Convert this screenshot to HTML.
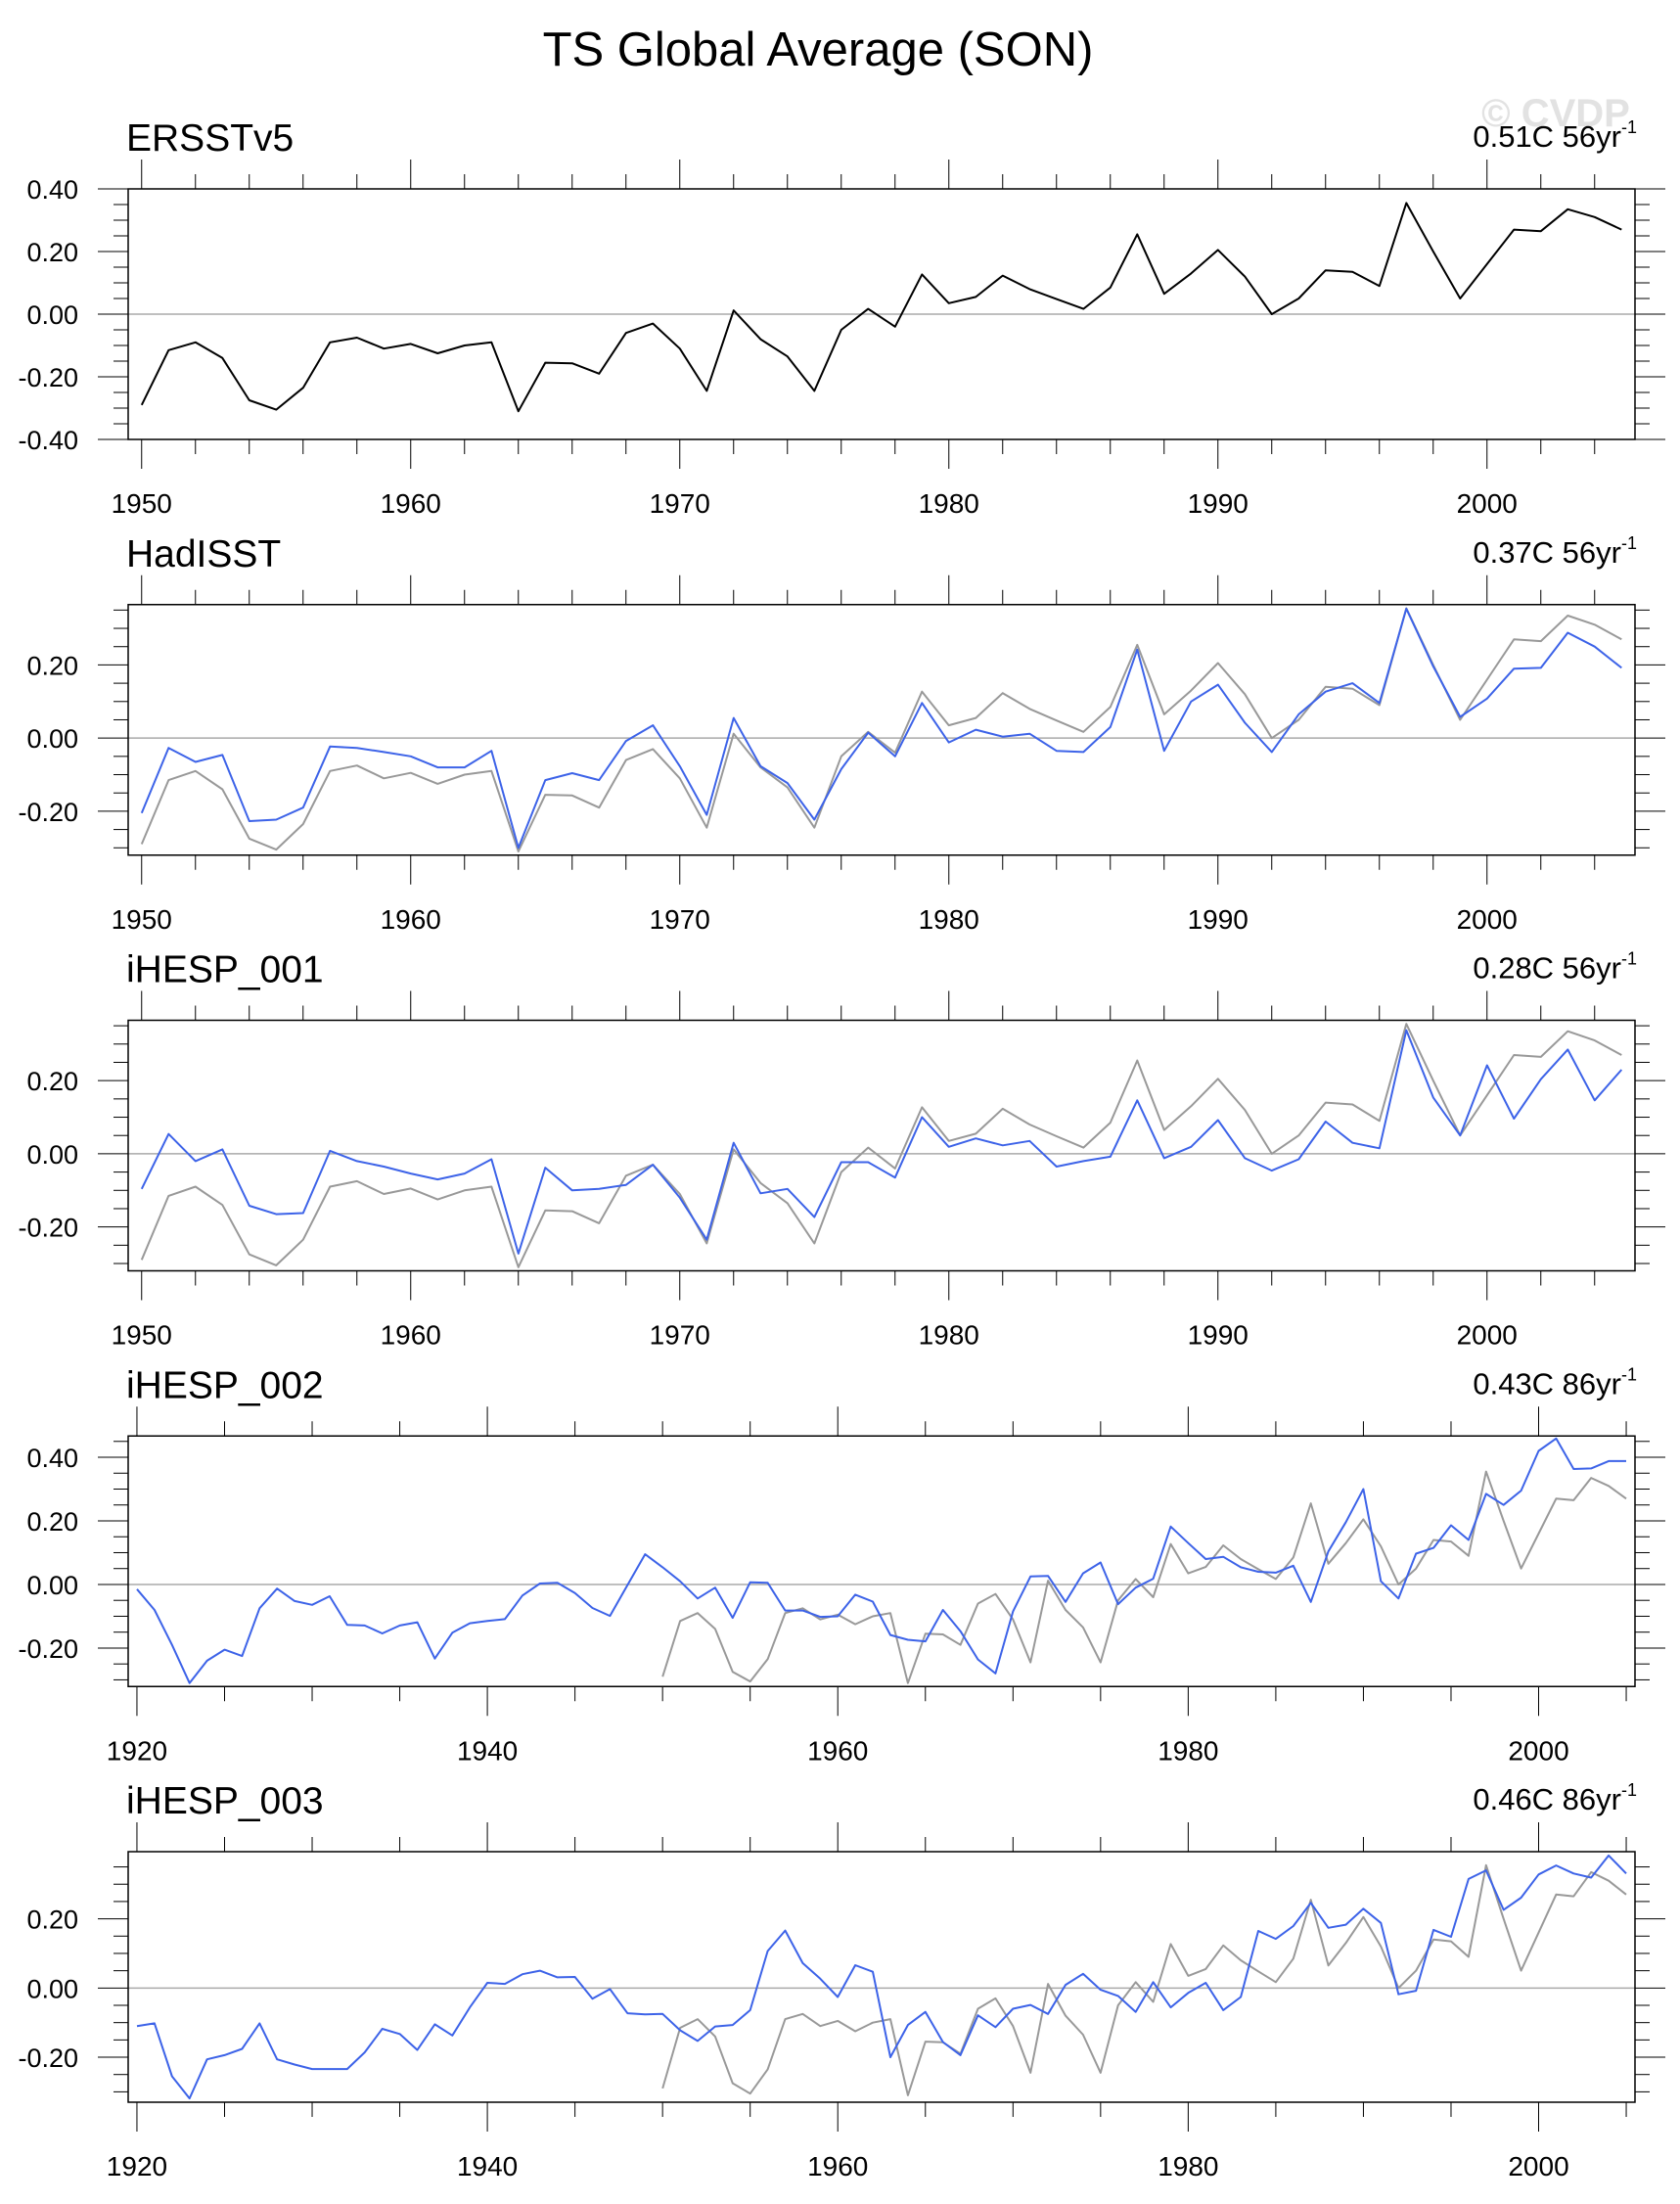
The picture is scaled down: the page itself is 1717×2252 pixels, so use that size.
<!DOCTYPE html>
<html><head><meta charset="utf-8"><style>
html,body{margin:0;padding:0;background:#fff;}
svg{display:block;font-family:"Liberation Sans",sans-serif;}
</style></head><body>
<svg id="chart" width="1717" height="2252" viewBox="0 0 1717 2252">
<text x="836" y="67" font-size="49" text-anchor="middle">TS Global Average (SON)</text>
<text x="1590" y="129" font-size="40" text-anchor="middle" fill="#e2e2e2" font-weight="bold">© CVDP</text>
</svg>
<script>
const yearsShort = [];
for (let y = 1950; y <= 2005; y++) yearsShort.push(y);
const yearsLong = [];
for (let y = 1920; y <= 2005; y++) yearsLong.push(y);

const ersst = [-0.29,-0.115,-0.09,-0.14,-0.275,-0.305,-0.235,-0.09,-0.075,-0.11,-0.095,-0.125,-0.10,-0.09,-0.31,-0.155,-0.157,-0.19,-0.06,-0.03,-0.11,-0.245,0.012,-0.08,-0.135,-0.245,-0.05,0.017,-0.04,0.127,0.035,0.055,0.123,0.08,0.048,0.017,0.085,0.255,0.065,0.13,0.205,0.12,0.0,0.05,0.14,0.135,0.09,0.355,0.2,0.05,0.16,0.27,0.265,0.335,0.31,0.27];
const hadisst = [-0.205,-0.027,-0.065,-0.046,-0.227,-0.223,-0.19,-0.023,-0.027,-0.038,-0.05,-0.08,-0.08,-0.035,-0.30,-0.115,-0.096,-0.115,-0.008,0.035,-0.077,-0.21,0.055,-0.077,-0.123,-0.223,-0.085,0.015,-0.05,0.096,-0.012,0.023,0.004,0.012,-0.035,-0.038,0.03,0.242,-0.035,0.1,0.146,0.042,-0.038,0.065,0.127,0.15,0.096,0.354,0.196,0.058,0.108,0.19,0.192,0.288,0.25,0.192];
const ihesp001 = [-0.096,0.054,-0.02,0.012,-0.142,-0.165,-0.162,0.008,-0.02,-0.035,-0.054,-0.07,-0.054,-0.015,-0.273,-0.038,-0.1,-0.096,-0.085,-0.03,-0.12,-0.235,0.03,-0.108,-0.096,-0.173,-0.023,-0.023,-0.065,0.1,0.019,0.042,0.023,0.035,-0.035,-0.02,-0.008,0.146,-0.012,0.019,0.092,-0.012,-0.046,-0.015,0.088,0.03,0.015,0.338,0.154,0.05,0.242,0.096,0.204,0.285,0.146,0.23];
const ihesp002 = [-0.015,-0.08,-0.19,-0.31,-0.24,-0.205,-0.225,-0.075,-0.013,-0.052,-0.064,-0.037,-0.127,-0.129,-0.154,-0.129,-0.119,-0.233,-0.152,-0.122,-0.115,-0.109,-0.035,0.003,0.005,-0.027,-0.074,-0.099,-0.002,0.095,0.054,0.01,-0.044,-0.01,-0.105,0.007,0.005,-0.082,-0.082,-0.102,-0.1,-0.032,-0.054,-0.159,-0.174,-0.179,-0.08,-0.147,-0.236,-0.28,-0.085,0.025,0.027,-0.055,0.035,0.069,-0.062,-0.01,0.018,0.182,0.13,0.08,0.087,0.054,0.04,0.037,0.059,-0.055,0.104,0.196,0.3,0.01,-0.044,0.097,0.115,0.186,0.14,0.285,0.25,0.295,0.42,0.459,0.363,0.365,0.388,0.388];
const ihesp003 = [-0.11,-0.102,-0.255,-0.319,-0.206,-0.194,-0.176,-0.102,-0.206,-0.221,-0.234,-0.234,-0.234,-0.186,-0.118,-0.133,-0.179,-0.105,-0.137,-0.056,0.015,0.012,0.04,0.05,0.031,0.032,-0.031,-0.003,-0.073,-0.076,-0.075,-0.122,-0.153,-0.111,-0.107,-0.064,0.107,0.166,0.072,0.027,-0.026,0.066,0.047,-0.2,-0.107,-0.069,-0.156,-0.194,-0.079,-0.113,-0.06,-0.049,-0.075,0.009,0.041,-0.005,-0.023,-0.069,0.017,-0.056,-0.014,0.015,-0.064,-0.026,0.165,0.142,0.179,0.246,0.174,0.183,0.229,0.188,-0.018,-0.008,0.168,0.148,0.315,0.34,0.226,0.261,0.328,0.354,0.331,0.319,0.383,0.331];

const panelNames = ["ERSSTv5","HadISST","iHESP_001","iHESP_002","iHESP_003"];
const trendLabels = ["0.51C 56yr","0.37C 56yr","0.28C 56yr","0.43C 86yr","0.46C 86yr"];
const yMins = [-0.40,-0.32,-0.32,-0.321,-0.33];
const yMaxs = [0.40,0.365,0.365,0.467,0.394];

const svg = document.getElementById('chart');
const NS = 'http://www.w3.org/2000/svg';
function mk(tag, attrs, parent) {
  const e = document.createElementNS(NS, tag);
  for (const k in attrs) e.setAttribute(k, attrs[k]);
  (parent || svg).appendChild(e);
  return e;
}
const L = 131, R = 1671, H = 256;

for (let p = 0; p < 5; p++) {
  const top = 193 + 424.75 * p, bot = top + H;
  const long = p >= 3;
  const x0 = long ? 1919.5 : 1949.5, x1 = 2005.5;
  const yMin = yMins[p], yMax = yMaxs[p];
  const xs = v => L + (v - x0) / (x1 - x0) * (R - L);
  const ys = v => bot - (v - yMin) / (yMax - yMin) * H;
  const g = mk('g', {});
  
  

  const t1 = mk('text', {x: 129, y: top - 39, 'font-size': 39}, g);
  t1.textContent = panelNames[p];
  
  
  const t2 = mk('text', {x: 1673, y: top - 43, 'font-size': 31, 'text-anchor': 'end'}, g);
  t2.textContent = trendLabels[p];
  const sup = mk('tspan', {'font-size': 18, dy: -14}, t2);
  sup.textContent = '-1';
  
  

  const major = long ? 20 : 10, minor = long ? 5 : 2;
  for (let yr = long ? 1920 : 1950; yr <= 2005; yr += minor) {
    const x = xs(yr), isM = (yr % major === 0);
    const len = isM ? 30 : 15;
    mk('line', {x1: x, x2: x, y1: top, y2: top - len, stroke: '#000', 'stroke-width': 1}, g);
    mk('line', {x1: x, x2: x, y1: bot, y2: bot + len, stroke: '#000', 'stroke-width': 1}, g);
    if (isM) {
      const tl = mk('text', {x: x, y: bot + 75, 'font-size': 28, 'text-anchor': 'middle'}, g);
      tl.textContent = yr;
      
      
    }
  }
  for (let k = Math.ceil(yMin / 0.05 - 1e-6); k * 0.05 <= yMax + 1e-6; k++) {
    const v = k * 0.05, y = ys(v), isM = (k % 4 === 0);
    const len = isM ? 31 : 15;
    mk('line', {x1: L, x2: L - len, y1: y, y2: y, stroke: '#000', 'stroke-width': 1}, g);
    mk('line', {x1: R, x2: R + len, y1: y, y2: y, stroke: '#000', 'stroke-width': 1}, g);
    if (isM) {
      const tl = mk('text', {x: 80, y: y + 10, 'font-size': 27, 'text-anchor': 'end'}, g);
      tl.textContent = v.toFixed(2);
      
      
    }
  }
  mk('line', {x1: L, x2: R, y1: ys(0), y2: ys(0), stroke: '#aaa', 'stroke-width': 1.5}, g);

  function series(vals, yrs, color, w, name) {
    const pts = vals.map((v, i) => xs(yrs[i]).toFixed(1) + ',' + ys(v).toFixed(1)).join(' ');
    const pl = mk('polyline', {points: pts, fill: 'none', stroke: color, 'stroke-width': w, 'stroke-linejoin': 'round'}, g);
    
    
  }
  if (p === 0) {
    series(ersst, yearsShort, '#000', 2, 'ersstv5-line');
  } else {
    series(ersst, yearsShort, '#999', 2, 'ersstv5-reference-line');
    const blue = [null, hadisst, ihesp001, ihesp002, ihesp003][p];
    series(blue, long ? yearsLong : yearsShort, '#3d63e8', 2, 'model-line');
  }
  const box = mk('rect', {x: L, y: top, width: R - L, height: H, fill: 'none', stroke: '#000', 'stroke-width': 1.5}, g);
  
  
}
</script>
</body></html>
